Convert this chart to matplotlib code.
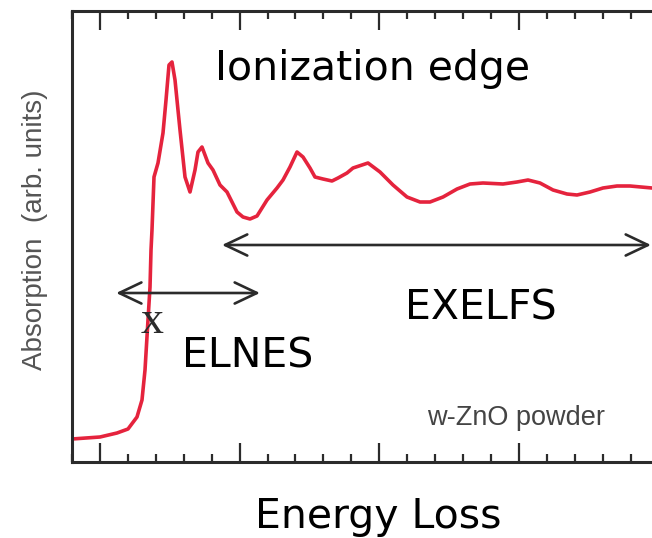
#!/usr/bin/env python3

import matplotlib.pyplot as plt
from matplotlib.ticker import MultipleLocator
import numpy as np

# energy loss (tick units) and absorption (arb. units) read along the edge
energy = [0.000, 1.003, 1.611, 2.005, 2.327, 2.506, 2.614, 2.721, 2.793,
          2.829, 2.864, 2.936, 3.079, 3.258, 3.366, 3.473, 3.580, 3.688,
          3.795, 3.867, 4.046, 4.225, 4.404, 4.511, 4.654, 4.762, 4.869,
          5.048, 5.299, 5.550, 5.729, 5.908, 6.122, 6.373, 6.624, 6.982,
          7.340, 7.555, 7.805, 8.056, 8.271, 8.521, 8.700, 8.987, 9.309,
          9.524, 9.846, 10.061, 10.598, 11.028, 11.493, 11.994, 12.460,
          12.818, 13.284, 13.785, 14.250, 14.715, 15.431, 15.933, 16.327,
          16.756, 17.222, 17.723, 18.081, 18.547, 19.012, 19.513, 19.979,
          20.766, 21.050]
absorption = [0.23, 0.25, 0.29, 0.33, 0.45, 0.62, 0.92, 1.42, 1.75,
              2.12, 2.32, 2.85, 2.99, 3.29, 3.62, 3.97, 4.00, 3.82,
              3.52, 3.32, 2.85, 2.70, 2.92, 3.10, 3.15, 3.07, 2.99,
              2.92, 2.77, 2.70, 2.60, 2.50, 2.45, 2.43, 2.46, 2.62,
              2.74, 2.82, 2.95, 3.10, 3.05, 2.94, 2.85, 2.83, 2.81,
              2.84, 2.89, 2.94, 2.99, 2.90, 2.77, 2.65, 2.60,
              2.60, 2.65, 2.73, 2.78, 2.79, 2.78, 2.80, 2.82,
              2.79, 2.72, 2.68, 2.67, 2.70, 2.74, 2.76, 2.76,
              2.74, 2.74]

# region arrows: (start, end, height)
elnes_span = (1.58, 6.73, 1.69)
exelfs_span = (5.37, 20.73, 2.17)

RED = '#e5233d'
INK = '#2b2b2b'

fig = plt.figure(figsize=(6.52, 5.38), dpi=100)
W, H = 652, 538
x0, y0, y1 = 72, 462, 11
unit = 27.93
xmax = 21.0
ax = fig.add_axes([x0 / W, (H - y0) / H, xmax * unit / W, (y0 - y1) / H])

ax.plot(energy, absorption, color=RED, lw=2.6,
        solid_joinstyle='round', solid_capstyle='round')

ax.set_xlim(0, xmax)
ax.set_ylim(0, (y0 - y1) / 100)

ax.xaxis.set_minor_locator(MultipleLocator(1))
ax.set_xticks(np.arange(1, xmax, 5))
ax.tick_params(axis='x', which='both', direction='in', top=True, bottom=True,
               labelbottom=False, color=INK)
ax.tick_params(axis='x', which='major', length=14, width=1.6)
ax.tick_params(axis='x', which='minor', length=6, width=1.6)
ax.set_yticks([])
for side in ('left', 'top', 'bottom'):
    ax.spines[side].set_linewidth(2.2)
    ax.spines[side].set_color(INK)
ax.spines['right'].set_visible(False)

arrow = dict(arrowstyle='<->,head_length=0.8,head_width=0.38', lw=1.9,
             color=INK, mutation_scale=20, shrinkA=0, shrinkB=0)
for a, b, h in (elnes_span, exelfs_span):
    ax.annotate('', xy=(b, h), xytext=(a, h), arrowprops=arrow)

big = dict(family='DejaVu Sans', fontsize=29.5, color='black')
ax.text(5.12, 3.82, 'Ionization edge', va='baseline', **big)
ax.text(11.92, 1.42, 'EXELFS', va='baseline', **big)
ax.text(3.94, 0.94, 'ELNES', va='baseline', **big)
ax.text(2.86, 1.29, 'x', family='Liberation Serif', fontsize=33,
        color=INK, ha='center', va='baseline')
ax.text(12.71, 0.37, 'w-ZnO powder', family='Liberation Sans',
        fontsize=19.5, color='#444444', va='baseline')

fig.text(378 / W, (H - 528) / H, 'Energy Loss', ha='center', va='baseline',
         **big)
fig.text(35 / W, (H - 230) / H, 'Absorption  (arb. units)', rotation=90,
         ha='center', va='center', family='Liberation Sans', fontsize=20,
         color='#555555')

fig.savefig('out.png', dpi=100)
